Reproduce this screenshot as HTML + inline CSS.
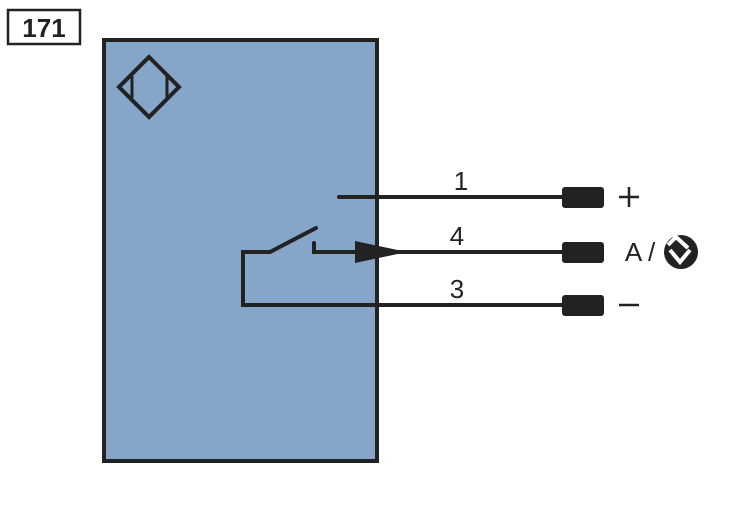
<!DOCTYPE html>
<html><head><style>body{margin:0;background:#fff}</style></head><body>
<svg width="750" height="500" viewBox="0 0 750 500" xmlns="http://www.w3.org/2000/svg" font-family="Liberation Sans, sans-serif">
<rect x="8" y="10" width="72" height="34" fill="#fff" stroke="#222" stroke-width="2.5"/>
<text x="44" y="37" font-size="26" font-weight="bold" text-anchor="middle" fill="#222">171</text>
<rect x="104" y="40" width="273" height="421" fill="#85a5c9" stroke="#222" stroke-width="4"/>
<path d="M149 57 L179 87 L149 117 L119 87 Z" fill="none" stroke="#222" stroke-width="4" stroke-linejoin="miter"/>
<line x1="132" y1="76" x2="132" y2="98" stroke="#222" stroke-width="3"/>
<line x1="167" y1="76" x2="167" y2="98" stroke="#222" stroke-width="3"/>
<g stroke="#222" stroke-width="4" fill="none" stroke-linecap="round">
<line x1="339" y1="197" x2="565" y2="197"/>
<path d="M314 243 L314 252 L565 252"/>
<path d="M316 228 L270 252 L243 252 L243 305 L565 305"/>
</g>
<path d="M355 241 L407 252 L355 263 Z" fill="#222"/>
<rect x="562" y="187" width="42" height="21" rx="3" fill="#222"/>
<rect x="562" y="242" width="42" height="21" rx="3" fill="#222"/>
<rect x="562" y="295" width="42" height="21" rx="3" fill="#222"/>
<g font-size="26" fill="#222" text-anchor="middle">
<text x="461" y="190">1</text>
<text x="457" y="245">4</text>
<text x="457" y="298">3</text>
<text x="640" y="261">A /</text>
</g>
<g stroke="#222" stroke-width="2.5">
<line x1="619" y1="197" x2="639" y2="197"/>
<line x1="629" y1="187" x2="629" y2="207"/>
<line x1="619" y1="305" x2="639" y2="305"/>
</g>
<circle cx="681" cy="252" r="17" fill="#222"/>
<path d="M668 245 L676 237 L688 248" fill="none" stroke="#fff" stroke-width="4"/>
<path d="M670 250 L680 262 L690 250" fill="none" stroke="#fff" stroke-width="4"/>
</svg>
</body></html>
